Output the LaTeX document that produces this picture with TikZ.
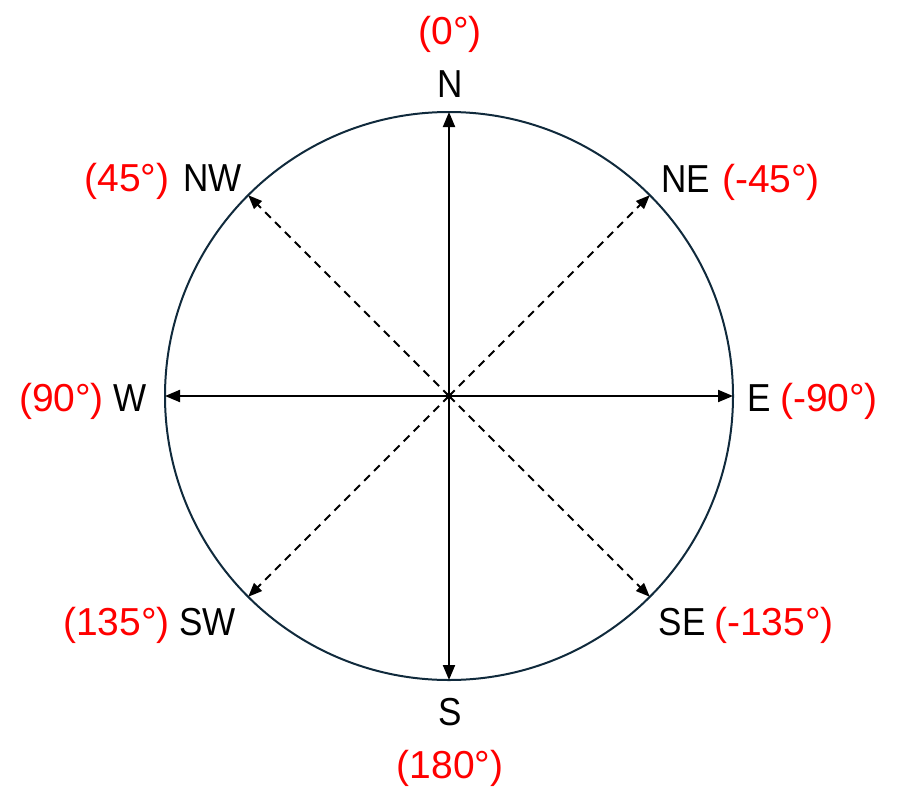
\documentclass[tikz,border=0pt]{standalone}
\usepackage{fontspec}
\setmainfont{Liberation Sans}
\newfontfamily\dirfont[FakeStretch=0.9]{Liberation Sans}
\usetikzlibrary{arrows.meta}
\definecolor{ringcol}{HTML}{102A3C}
\definecolor{angred}{HTML}{FF0000}
\begin{document}
\begin{tikzpicture}[x=1pt,y=-1pt,
  dirlab/.style={inner sep=0pt,anchor=base,font=\dirfont\fontsize{39}{44}\selectfont,text=black},
  anglab/.style={inner sep=0pt,anchor=base,font=\fontsize{39}{44}\selectfont,text=angred},
  solidarrow/.style={line width=2pt,-{Triangle[length=15pt,width=12pt]}},
  dasharrow/.style={line width=2pt,dash pattern=on 8pt off 6pt,-{Triangle[length=14pt,width=11pt]}}]
\useasboundingbox (0,0) rectangle (904,792);
\coordinate (c) at (449,396);
\node[draw=ringcol,line width=2pt,circle,minimum size=568pt,inner sep=0pt] (ring) at (c) {};
% compass end points on the ring
\path (c) ++(0,-284) coordinate (pN);
\path (c) ++(0,284) coordinate (pS);
\path (c) ++(284,0) coordinate (pE);
\path (c) ++(-284,0) coordinate (pW);
\path (c) ++(200.8,-200.8) coordinate (pNE);
\path (c) ++(-200.8,-200.8) coordinate (pNW);
\path (c) ++(200.8,200.8) coordinate (pSE);
\path (c) ++(-200.8,200.8) coordinate (pSW);
\draw[dasharrow] (c) -- (pNE);
\draw[dasharrow] (c) -- (pNW);
\draw[dasharrow] (c) -- (pSE);
\draw[dasharrow] (c) -- (pSW);
\draw[solidarrow] (c) -- (pN);
\draw[solidarrow] (c) -- (pS);
\draw[solidarrow] (c) -- (pE);
\draw[solidarrow] (c) -- (pW);
\fill (c) circle (3.5pt);
% labels
\node[dirlab] (lN) at (450.5,97) {N};
\node[anglab] (aN) at (450,45) {(0°)};
\node[dirlab] (lS) at (450.5,725) {S};
\node[anglab] (aS) at (450,778) {(180°)};
\node[dirlab] (lNE) at (685.5,192) {NE};
\node[anglab] (aNE) at (771,192) {(-45°)};
\node[dirlab] (lNW) at (212.5,191) {NW};
\node[anglab] (aNW) at (127,191) {(45°)};
\node[dirlab] (lE) at (759,411) {E};
\node[anglab] (aE) at (829,411) {(-90°)};
\node[dirlab] (lW) at (130.5,411) {W};
\node[anglab] (aW) at (61.5,411) {(90°)};
\node[dirlab] (lSW) at (207.5,635) {SW};
\node[anglab] (aSW) at (116.5,635) {(135°)};
\node[dirlab] (lSE) at (682,635) {SE};
\node[anglab] (aSE) at (774,635) {(-135°)};
\end{tikzpicture}
\end{document}
